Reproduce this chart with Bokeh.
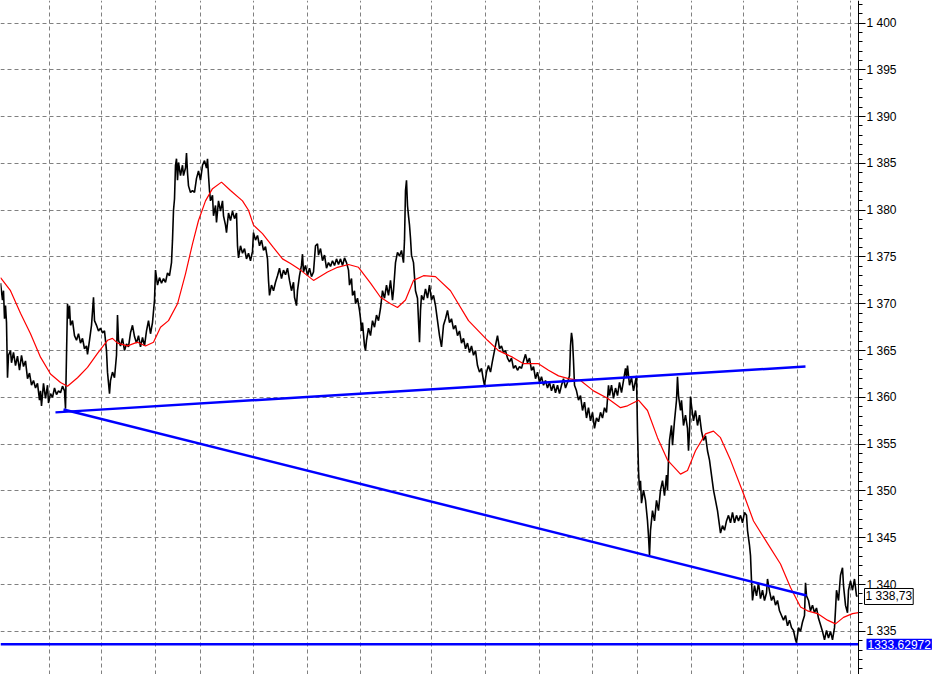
from bokeh.plotting import figure
from bokeh.models import Range1d, FixedTicker, Grid, Label, LinearAxis
from bokeh.embed import file_html
from bokeh.resources import INLINE

# ---------------- data ----------------
# bar index (time axis) and close price of the black series
bar = [0, 2, 3, 4, 5, 6, 7, 8, 10, 11, 13, 15, 17, 19, 21, 23, 25, 27, 29, 31, 33, 35, 37, 39, 40, 41, 43, 45, 47, 48,
       50, 52, 54, 56, 58, 60, 62, 64, 65, 66, 67, 68, 69, 70, 72, 74, 76, 78, 80, 82, 84, 86, 87, 89, 91, 93, 94, 96, 98,
       100, 102, 104, 106, 107, 109, 110, 112, 114, 116, 117, 118, 120, 122, 124, 126, 128, 130, 132, 134, 136, 138, 140,
       142, 144, 146, 148, 150, 152, 154, 155, 157, 159, 161, 163, 165, 167, 169, 171, 172, 173, 174, 175, 176, 177, 178,
       180, 182, 183, 185, 186, 187, 188, 190, 192, 194, 196, 198, 200, 202, 204, 206, 207, 208, 209, 210, 212, 213, 215,
       216, 218, 220, 222, 223, 225, 226, 228, 230, 232, 234, 236, 237, 238, 240, 242, 244, 246, 248, 250, 252, 253, 255,
       257, 259, 261, 263, 265, 267, 268, 269, 271, 273, 275, 277, 279, 281, 283, 285, 287, 289,
       291, 293, 294, 296, 297, 299, 301, 302, 303, 305, 307, 309, 311, 313, 315, 317, 318, 320, 322, 324, 326, 328, 330,
       332, 334, 336, 338, 340, 342, 344, 346, 348, 349, 351, 352, 354, 355, 357, 359, 360, 361, 362, 364, 365, 366, 368,
       370, 372, 374, 376, 378, 380, 382, 384, 386, 388, 390, 392, 393, 395, 397, 399, 401, 403, 404, 405, 406, 407, 408,
       409, 410, 411, 413, 415, 417, 418, 419, 420, 421, 423, 425, 427, 429, 431, 433,
       435, 437, 439, 441, 443, 445, 447, 449, 451, 453, 455, 457, 459, 461, 463, 465, 467, 469, 471, 473, 475, 477, 479,
       481, 483, 484, 486, 488, 490, 492, 494, 496, 497, 499, 501, 503, 505, 507, 509, 511, 513, 515, 517, 519, 521, 523,
       525, 527, 529, 531, 533, 535, 537, 539, 541, 543, 545, 547, 549, 551, 553, 555, 557, 559, 561, 563, 565, 567, 569,
       570, 571, 572, 573, 574, 576, 578, 580,
       582, 584, 586, 588, 590, 592, 594, 596, 598, 600, 602, 604, 606, 608, 609, 611, 613, 615, 617, 619, 621, 623, 625,
       626, 627, 629, 631, 633, 635, 636, 637, 638, 639, 640, 641, 643, 645, 647, 648, 649, 650, 652, 654, 656, 658, 660,
       662, 664, 666, 667, 668, 669, 671, 672, 674, 676, 677, 678, 680, 681, 683, 685, 687, 688, 689, 690, 691, 693, 695,
       697, 699, 701, 703, 705, 707, 709, 711, 713, 715, 717, 719, 720, 722, 724,
       726, 728, 730, 732, 734, 736, 738, 740, 742, 744, 746, 747, 749, 750, 751, 752, 754, 756, 758, 760, 762, 764, 766,
       767, 769, 771, 773, 775, 777, 779, 781, 783, 785, 787, 789, 791, 793, 795, 796, 798, 800, 802, 804, 805, 806, 808,
       810, 812, 814, 816, 818, 820, 822, 824, 826, 828, 830, 832, 834, 835, 836, 838, 840, 842, 843, 845, 847, 848, 850,
       852, 854, 856, 857]

close = [1372.2, 1370.4, 1371.4, 1368.4, 1369.8, 1368.0, 1362.1, 1364.5, 1365.0, 1363.7, 1364.8, 1363.4, 1364.4,
         1362.9, 1364.5, 1363.3, 1363.9, 1362.0, 1362.6, 1361.3, 1361.8, 1361.0, 1361.5, 1359.7, 1360.7, 1359.1,
         1361.5, 1359.9, 1361.3, 1359.4, 1360.4, 1360.0, 1361.0, 1360.3, 1360.7, 1360.5, 1361.2, 1360.7, 1358.8,
         1364.5, 1370.0, 1368.4, 1369.8, 1367.7, 1368.2, 1366.6, 1366.1, 1366.8, 1365.8, 1366.3, 1365.2, 1365.5,
         1364.6, 1366.1, 1367.7, 1370.7, 1368.2, 1367.7, 1367.1, 1367.4, 1366.9, 1367.1, 1365.0, 1362.7, 1360.4,
         1361.8, 1362.7, 1362.1, 1364.5, 1368.8, 1366.1, 1365.5, 1366.3, 1365.0, 1365.7, 1365.4, 1366.9, 1367.7,
         1366.5, 1365.8, 1366.6, 1365.4, 1366.4, 1365.5, 1367.1, 1368.2, 1366.8, 1368.0, 1370.4, 1373.6, 1372.0,
         1372.8, 1372.2, 1372.7, 1372.3, 1373.3, 1373.0, 1374.4, 1376.8, 1380.0, 1381.2, 1384.8, 1385.5, 1383.2,
         1385.1, 1383.7, 1384.8, 1383.7, 1384.5, 1386.1, 1384.0, 1382.6, 1381.9, 1382.1, 1381.9, 1383.4, 1384.2,
         1383.2, 1384.8, 1385.3, 1384.5, 1385.5, 1383.7, 1382.1, 1381.0, 1381.6, 1379.4, 1380.5, 1378.7, 1381.0,
         1379.9, 1381.0, 1379.4, 1378.4, 1377.6, 1379.7, 1378.9, 1379.9, 1379.1, 1379.7, 1376.2, 1374.9, 1376.2,
         1375.4, 1375.9, 1374.8, 1375.4, 1374.6, 1375.6, 1377.6, 1376.8, 1377.3, 1376.2, 1376.8, 1375.7, 1376.1,
         1374.8, 1372.5, 1370.9, 1372.0, 1371.4, 1372.3, 1373.0, 1373.8, 1372.7, 1373.6, 1373.1, 1373.8, 1372.5,
         1371.4, 1372.3, 1370.7, 1369.8, 1371.4, 1373.0, 1374.1, 1375.3, 1373.4, 1374.1, 1373.0, 1373.8, 1372.9,
         1373.4, 1376.2, 1376.4, 1375.2, 1375.9, 1374.6, 1375.2, 1373.8, 1374.4, 1374.0, 1374.6, 1374.1, 1374.8,
         1374.2, 1374.8, 1374.1, 1374.9, 1374.4, 1373.6, 1372.0, 1372.7, 1370.9, 1371.4, 1370.0, 1370.6, 1369.3,
         1368.4, 1367.1, 1368.0, 1365.5, 1365.0, 1366.1, 1367.4, 1366.6, 1368.2, 1367.5, 1368.8, 1368.2, 1369.5,
         1371.4, 1370.6, 1372.0, 1370.9, 1372.5, 1370.4, 1371.4, 1374.4, 1375.5, 1375.1, 1375.7, 1374.4, 1376.8,
         1382.1, 1383.2, 1380.5, 1379.4, 1378.4, 1377.0, 1375.2, 1374.4, 1371.4, 1370.6, 1368.2, 1365.9, 1369.3,
         1370.9, 1370.4, 1371.6, 1370.6, 1372.0, 1370.4, 1370.9,
         1369.8, 1368.2, 1366.6, 1365.4, 1367.7, 1368.4, 1369.3, 1368.0, 1368.4, 1367.3, 1367.7, 1366.6, 1367.1,
         1365.8, 1366.3, 1365.2, 1365.8, 1364.8, 1365.5, 1364.5, 1365.0, 1363.4, 1362.7, 1363.1, 1361.8, 1361.3,
         1362.7, 1363.4, 1362.7, 1363.9, 1365.0, 1366.1, 1366.6, 1365.2, 1365.5, 1364.8, 1365.0, 1364.2, 1363.8,
         1364.2, 1363.1, 1363.4, 1362.9, 1363.3, 1363.1, 1363.9, 1364.6, 1363.7, 1364.2, 1362.9, 1363.3, 1362.0,
         1362.7, 1361.6, 1362.2, 1361.3, 1361.8, 1361.0, 1361.6, 1360.7, 1361.4, 1360.5, 1361.3, 1360.4, 1361.3,
         1362.0, 1361.0, 1361.6, 1362.3, 1365.5, 1366.9, 1366.1, 1363.9, 1361.3, 1360.7, 1359.7, 1360.2,
         1358.6, 1359.5, 1357.8, 1358.9, 1357.5, 1358.4, 1356.7, 1357.8, 1357.4, 1358.4, 1357.8, 1358.9, 1358.4,
         1361.3, 1360.2, 1361.3, 1359.9, 1361.0, 1360.2, 1361.6, 1360.5, 1361.8, 1363.1, 1362.1, 1363.4, 1361.3,
         1362.1, 1360.7, 1361.8, 1362.3, 1356.4, 1352.2, 1350.1, 1351.1, 1348.7, 1350.1, 1349.0, 1346.8, 1345.2,
         1343.1, 1345.8, 1347.9, 1346.8, 1349.0, 1347.9, 1350.1, 1351.1, 1349.5, 1351.7, 1350.1, 1353.3, 1355.4,
         1357.0, 1354.9, 1357.5, 1359.7, 1362.2, 1360.2, 1358.6, 1359.7, 1357.0, 1358.1, 1356.7, 1354.3, 1356.4,
         1360.1, 1359.1, 1357.5, 1358.6, 1357.0, 1358.1, 1356.4, 1355.4, 1355.9, 1354.3, 1353.3, 1351.7, 1350.1,
         1349.0, 1347.9, 1346.3, 1345.5, 1346.3, 1345.8,
         1346.8, 1347.4, 1346.6, 1347.7, 1346.6, 1347.4, 1346.8, 1347.4, 1346.6, 1347.7, 1347.4, 1345.8, 1344.2,
         1343.1, 1340.4, 1338.3, 1339.9, 1338.8, 1340.2, 1338.5, 1339.4, 1338.3, 1339.1, 1340.6, 1339.3, 1338.3,
         1338.8, 1337.8, 1338.3, 1337.2, 1336.7, 1336.2, 1336.7, 1335.6, 1336.2, 1335.4, 1335.1, 1334.1, 1333.8,
         1335.4, 1335.0, 1336.0, 1336.7, 1340.2, 1338.8, 1338.3, 1337.2, 1337.8, 1337.0, 1337.5, 1336.4, 1335.7,
         1335.0, 1334.1, 1335.1, 1334.3, 1335.0, 1334.1, 1335.4, 1337.3, 1339.4, 1338.3, 1341.0, 1341.8, 1339.9,
         1337.8, 1337.0, 1339.4, 1340.4, 1339.4, 1340.6, 1338.8, 1338.73]

# moving average (red)
ma_bar = [0, 10, 20, 30, 40, 50, 60, 67, 77, 87, 97, 107, 112, 117, 127, 137, 145, 153, 160, 168, 177, 185, 192,
          198, 205, 212, 221, 230, 242, 248, 253, 262, 273, 282, 290, 300, 313, 327, 337, 348, 358, 370, 380, 390,
          397, 405, 413, 423, 435, 450, 468, 487, 498, 512, 523, 538, 548, 558, 568, 580, 593, 607, 620, 627, 638,
          647, 657, 667, 680, 687, 695, 705, 713, 720, 730, 743, 753, 767, 780, 790, 800, 807, 817, 827, 835, 843,
          852, 858]
ma_val = [1372.8, 1371.4, 1369.0, 1366.8, 1364.3, 1362.5, 1361.6, 1361.2, 1362.1, 1363.2, 1364.7, 1366.1, 1366.3,
          1365.8, 1365.5, 1365.9, 1365.5, 1365.9, 1367.5, 1368.2, 1370.0, 1373.2, 1376.4, 1378.9, 1381.0, 1382.3,
          1383.0, 1382.1, 1381.0, 1380.0, 1378.4, 1377.5, 1376.0, 1374.8, 1374.3, 1373.6, 1372.5, 1373.4, 1373.9,
          1374.2, 1373.9, 1372.2, 1370.7, 1370.0, 1369.6, 1370.4, 1372.5, 1373.0, 1372.9, 1371.4, 1368.2, 1366.1,
          1365.0, 1364.3, 1363.6, 1363.6, 1362.9, 1362.3, 1362.0, 1361.8, 1360.7, 1359.9, 1358.9, 1359.1, 1359.7,
          1358.6, 1355.7, 1353.3, 1351.8, 1352.2, 1354.3, 1356.1, 1356.4, 1355.7, 1353.3, 1349.7, 1346.8, 1344.4,
          1342.2, 1339.7, 1337.6, 1337.2, 1336.9, 1336.2, 1335.8, 1336.5, 1336.9, 1337.0]

# trend lines (blue)
upper_trend_bar = [55, 805]
upper_trend_val = [1358.4, 1363.3]
lower_trend_bar = [63, 806]
lower_trend_val = [1358.7, 1338.84]
support_level = 1333.62972
last_price = 1338.73

# axis ticks
y_ticks = [1335, 1340, 1345, 1350, 1355, 1360, 1365, 1370, 1375, 1380, 1385, 1390, 1395, 1400]
y_tick_labels = ["1 335", "1 340", "1 345", "1 350", "1 355", "1 360", "1 365", "1 370", "1 375", "1 380",
                 "1 385", "1 390", "1 395", "1 400"]
y_minor_ticks = list(range(1331, 1403))
session_ticks = [49, 101, 155, 200, 253, 307, 360, 431, 485, 539, 592, 637, 691, 743, 797, 850]
last_price_text = "1 338,73"
support_text = "1333.62972"

# layout of the chart in bar units
last_bar = 858        # the price scale sits just after the last bar
view_end = 949

# ---------------- figure ----------------
p = figure(width=949, height=674, output_backend="svg", toolbar_location=None,
           x_range=Range1d(0, view_end), y_range=Range1d(1330.395, 1402.404),
           x_axis_location=None, y_axis_location=None,
           min_border_left=0, min_border_right=0, min_border_top=0, min_border_bottom=0)
p.outline_line_color = None
p.background_fill_color = "white"
p.border_fill_color = "white"

for g in p.grid:
    g.visible = False

y_ticker = FixedTicker(ticks=y_ticks, minor_ticks=y_minor_ticks)
p.add_layout(Grid(dimension=0, ticker=FixedTicker(ticks=session_ticks),
                  grid_line_color="#808080", grid_line_dash="4 3", grid_line_width=1))
p.add_layout(Grid(dimension=1, ticker=y_ticker,
                  grid_line_color="#808080", grid_line_dash="4 3", grid_line_width=1))

# blank price-scale area (covers the horizontal grid to the right of the scale)
p.quad(left=[last_bar], right=[view_end], bottom=[1330.395], top=[1402.404],
       fill_color="white", line_color=None)

yaxis = LinearAxis(ticker=y_ticker, fixed_location=last_bar)
yaxis.major_label_overrides = {t: s for t, s in zip(y_ticks, y_tick_labels)}
yaxis.axis_line_color = "black"
yaxis.axis_line_width = 1
yaxis.major_tick_line_color = "black"
yaxis.minor_tick_line_color = "black"
yaxis.major_tick_in = 0
yaxis.major_tick_out = 7
yaxis.minor_tick_in = 0
yaxis.minor_tick_out = 4
yaxis.major_label_standoff = 1
yaxis.major_label_text_font = "Liberation Sans"
yaxis.major_label_text_font_size = "12px"
yaxis.major_label_text_color = "black"
p.add_layout(yaxis, "right")

# series
p.line(bar, close, line_color="black", line_width=1.6)
p.line(ma_bar, ma_val, line_color="#ff0000", line_width=1.2)
p.line(upper_trend_bar, upper_trend_val, line_color="#0000ff", line_width=2.5)
p.line(lower_trend_bar, lower_trend_val, line_color="#0000ff", line_width=2.5)
p.line([0, last_bar], [support_level, support_level], line_color="#0000ff", line_width=2.5)

# price labels on the scale
p.add_layout(Label(x=last_bar + 6, y=last_price, text=last_price_text, text_baseline="middle", text_align="left",
                   text_font="Liberation Sans", text_font_size="12px", text_color="black",
                   background_fill_color="white", border_line_color="black", border_line_width=1,
                   padding=1))
p.add_layout(Label(x=last_bar + 8, y=support_level, text=support_text, text_baseline="middle", text_align="left",
                   text_font="Liberation Sans", text_font_size="12px", text_color="white",
                   background_fill_color="#0000ff", padding=1))

open("out.html", "w").write(file_html(p, INLINE))
